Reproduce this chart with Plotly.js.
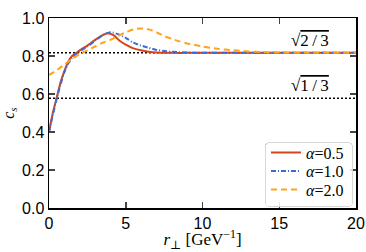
<!DOCTYPE html>
<html>
<head>
<meta charset="utf-8">
<script src="https://cdn.plot.ly/plotly-3.0.1.min.js"></script>
<style>body{margin:0;padding:0;background:#fff}#chart{width:366px;height:252px}</style>
</head>
<body>
<div id="chart"></div>
<script>
const r_a05 = [0, 0.25, 0.5, 0.75, 1, 1.25, 1.5, 1.75, 2, 2.5, 3, 3.5, 3.8, 4.2, 4.6, 5, 5.5, 6, 6.5, 7, 8, 9, 10, 12, 15, 20];
const cs_a05 = [0.40, 0.50, 0.58, 0.66, 0.72, 0.77, 0.80, 0.815, 0.83, 0.855, 0.885, 0.91, 0.92, 0.91, 0.88, 0.86, 0.84, 0.83, 0.822, 0.818, 0.8165, 0.8165, 0.8165, 0.8165, 0.8165, 0.8165];
const r_a10 = [0, 0.25, 0.5, 0.75, 1, 1.25, 1.5, 1.75, 2, 2.5, 3, 3.5, 4, 4.5, 5, 5.5, 6, 6.5, 7, 7.5, 8, 9, 10, 12, 15, 20];
const cs_a10 = [0.40, 0.49, 0.575, 0.65, 0.715, 0.76, 0.79, 0.81, 0.825, 0.85, 0.88, 0.91, 0.925, 0.915, 0.895, 0.87, 0.855, 0.843, 0.832, 0.826, 0.822, 0.818, 0.817, 0.8165, 0.8165, 0.8165];
const r_a20 = [0, 0.5, 1, 1.5, 2, 2.5, 3, 3.5, 4, 4.5, 5, 5.5, 6, 6.5, 7, 7.5, 8, 8.5, 9, 10, 11, 12, 13, 14, 15, 17, 20];
const cs_a20 = [0.70, 0.725, 0.755, 0.785, 0.81, 0.83, 0.85, 0.87, 0.885, 0.905, 0.925, 0.94, 0.945, 0.94, 0.925, 0.905, 0.89, 0.877, 0.866, 0.85, 0.838, 0.83, 0.824, 0.82, 0.818, 0.817, 0.8165];
const refValues = [Math.sqrt(2/3), Math.sqrt(1/3)];
const refLabels = ["√<span style='text-decoration:overline'>2\u2009/\u20093</span>", "√<span style='text-decoration:overline'>1\u2009/\u20093</span>"];
const seriesNames = ["<i>α</i>=0.5", "<i>α</i>=1.0", "<i>α</i>=2.0"];
const xRange = [0, 20];

const serif = "Liberation Serif, DejaVu Serif, serif";
const sans = "Liberation Sans, Arial, sans-serif";

const traces = [
  {x: r_a05, y: cs_a05, name: seriesNames[0], mode: 'lines', line: {color: '#d4461a', width: 2, shape: 'spline', smoothing: 0.6}},
  {x: r_a10, y: cs_a10, name: seriesNames[1], mode: 'lines', line: {color: '#3d6bd6', width: 2, dash: '5px,2px,1px,2px', shape: 'spline', smoothing: 0.6}},
  {x: r_a20, y: cs_a20, name: seriesNames[2], mode: 'lines', line: {color: '#ffa31a', width: 2, dash: '6px,4px', shape: 'spline', smoothing: 0.6}},
  {x: [xRange[0], xRange[1]], y: [refValues[0], refValues[0]], mode: 'lines', showlegend: false, hoverinfo: 'skip', line: {color: 'black', width: 1.5, dash: '2px,2px'}},
  {x: [xRange[0], xRange[1]], y: [refValues[1], refValues[1]], mode: 'lines', showlegend: false, hoverinfo: 'skip', line: {color: 'black', width: 1.5, dash: '2px,2px'}}
];
const ordered = [traces[3], traces[4], traces[0], traces[1], traces[2]];

const layout = {
  width: 366, height: 252,
  margin: {l: 49, r: 10, t: 18, b: 44},
  paper_bgcolor: 'white', plot_bgcolor: 'white',
  showlegend: true,
  legend: {
    x: 0.985, y: 0.01, xanchor: 'right', yanchor: 'bottom',
    bgcolor: 'rgba(255,255,255,0.85)', bordercolor: '#d8d8d8', borderwidth: 1,
    font: {family: serif, size: 16, color: 'black'},
    tracegroupgap: 0, itemwidth: 30
  },
  xaxis: {
    range: xRange, tickvals: [0, 5, 10, 15, 20], ticks: 'inside', ticklen: 6, tickwidth: 1.5,
    showline: true, linewidth: 1.5, linecolor: 'black', mirror: 'ticks', showgrid: false, zeroline: false,
    tickfont: {family: sans, size: 16, color: 'black'},
    title: {text: "<i>r</i><sub>⊥</sub> [GeV<sup>−1</sup>]", font: {family: serif, size: 17, color: 'black'}, standoff: 4}
  },
  yaxis: {
    range: [0, 1], tickvals: [0, 0.2, 0.4, 0.6, 0.8, 1.0], ticktext: ['0.0', '0.2', '0.4', '0.6', '0.8', '1.0'],
    ticks: 'inside', ticklen: 6, tickwidth: 1.5,
    showline: true, linewidth: 1.5, linecolor: 'black', mirror: 'ticks', showgrid: false, zeroline: false,
    tickfont: {family: sans, size: 16, color: 'black'},
    title: {text: "<i>c<sub>s</sub></i>", font: {family: serif, size: 16, color: 'black'}, standoff: 4}
  },
  annotations: [
    {x: 17.0, y: refValues[0], xref: 'x', yref: 'y', text: refLabels[0], showarrow: false, yanchor: 'bottom', yshift: 1, font: {family: serif, size: 17, color: 'black'}},
    {x: 17.0, y: refValues[1], xref: 'x', yref: 'y', text: refLabels[1], showarrow: false, yanchor: 'bottom', yshift: 1, font: {family: serif, size: 17, color: 'black'}}
  ]
};

Plotly.newPlot('chart', ordered, layout, {displayModeBar: false, staticPlot: true}).then(function (gd) {
  // tighten legend row spacing to match the reference (matplotlib-like legend)
  const leg = gd.querySelector('.legend');
  if (!leg) return;
  const items = leg.querySelectorAll('.traces');
  const spacing = 18.5, top = 10.5;
  items.forEach(function (it, i) {
    const m = /translate\(([-\d.]+)[ ,]+([-\d.]+)\)/.exec(it.getAttribute('transform') || '');
    const x = m ? parseFloat(m[1]) : 0;
    it.setAttribute('transform', 'translate(' + x + ',' + (top + i * spacing) + ')');
  });
  const bg = leg.querySelector('.bg');
  const boxW = 87, boxH = 64;
  if (bg) {
    bg.setAttribute('height', boxH);
    bg.setAttribute('width', boxW);
    bg.setAttribute('rx', 4); bg.setAttribute('ry', 4);
  }
  leg.setAttribute('transform', 'translate(265,142)');
});
</script>
</body>
</html>
